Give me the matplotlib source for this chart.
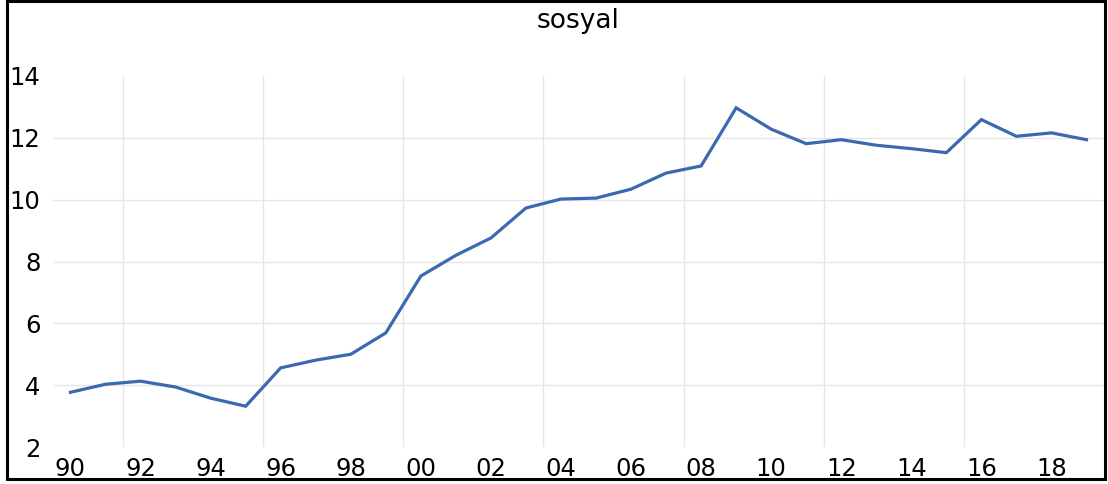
import matplotlib
matplotlib.use("Agg")
import matplotlib.pyplot as plt
from matplotlib.patches import Rectangle

# annual values, 1990-2019
years = list(range(1990, 2020))
sosyal = [3.77, 4.03, 4.13, 3.94, 3.58, 3.32, 4.56, 4.81, 5.00, 5.69,
          7.53, 8.20, 8.76, 9.73, 10.02, 10.05, 10.34, 10.86, 11.09, 12.97,
          12.28, 11.81, 11.94, 11.76, 11.65, 11.52, 12.59, 12.05, 12.16, 11.94]
xtick_years = list(range(1990, 2020, 2))
xtick_labels = [f"{y % 100:02d}" for y in xtick_years]
yticks = [2, 4, 6, 8, 10, 12, 14]

fig = plt.figure(figsize=(11.08, 4.84), dpi=100)
ax = fig.add_axes([0.0478, 0.0764, 0.9486, 0.7666])

grid_col = "#e6e6e6"
for y in yticks[1:-1]:
    ax.axhline(y, color=grid_col, lw=1, zorder=0)
for x in range(1991, 2019, 4):
    ax.axvline(x + 0.5, color=grid_col, lw=1, zorder=0)

ax.plot(years, sosyal, color="#3b69b0", lw=2.3, solid_joinstyle="miter", zorder=3)

ax.set_xlim(1989.5, 2019.5)
ax.set_ylim(2, 14)
ax.set_xticks(xtick_years, xtick_labels)
ax.set_yticks(yticks, [str(v) for v in yticks])
ax.tick_params(length=0, labelsize=17.5, colors="black")
ax.tick_params(axis="y", pad=9)
ax.tick_params(axis="x", pad=7)
for s in ax.spines.values():
    s.set_visible(False)

fig.text(0.522, 0.942, "sosyal", ha="center", va="baseline", fontsize=19)

fig.patches.append(Rectangle((0.0063, 0.0093), 0.9914, 0.9887, transform=fig.transFigure,
                             fill=False, edgecolor="black", lw=2.2, zorder=10))

fig.savefig("out.png", dpi=100)
